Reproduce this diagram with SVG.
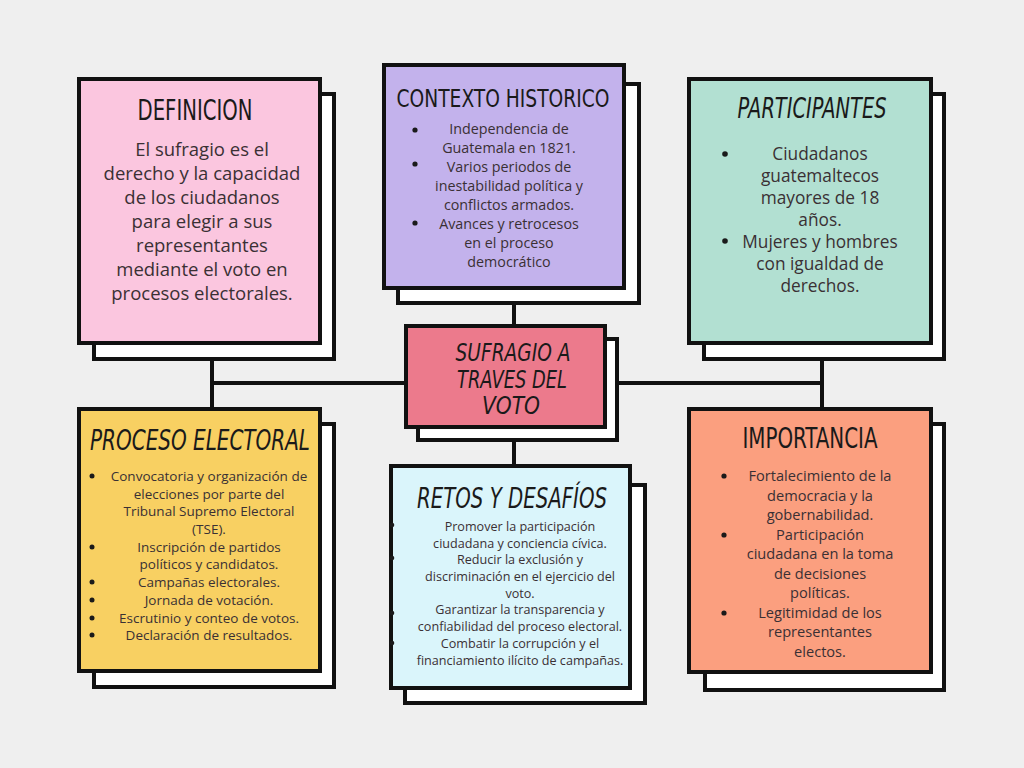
<svg xmlns="http://www.w3.org/2000/svg" width="1024" height="768" viewBox="0 0 1024 768">
<style>
.bg{fill:#efefef}
.sh{fill:#ffffff;stroke:#111;stroke-width:4}
.fr{stroke:#111;stroke-width:4}
.ttl{font-family:"Liberation Sans Narrow","DejaVu Sans Condensed","Roboto Condensed","Liberation Sans",sans-serif;font-stretch:condensed;fill:#1a1a1a;text-anchor:middle}
.it{font-style:italic}
.bd{font-family:"Open Sans","Noto Sans","Liberation Sans",sans-serif;font-weight:400;fill:#3a3034;text-anchor:middle}
.dot{fill:#1a1a1a}
.cn{stroke:#111;stroke-width:4;fill:none}
</style>
<rect class="bg" x="0" y="0" width="1024" height="768"/>
<g id="connectors">
<path class="cn" d="M212 359V408M212 383H406"/>
<path class="cn" d="M514 303V326M514 440V465"/>
<path class="cn" d="M822 360V408M619 383H822"/>
</g>
<g id="definicion">
<rect class="sh" x="94" y="94" width="240" height="265"/>
<rect class="fr" x="79" y="79" width="241" height="264" fill="#fbc6df"/>
<text class="ttl" x="195" y="120" font-size="28" textLength="115" lengthAdjust="spacingAndGlyphs">DEFINICION</text>
<g class="bd" font-size="18.5">
<text x="202" y="156">El sufragio es el</text>
<text x="202" y="180">derecho y la capacidad</text>
<text x="202" y="204">de los ciudadanos</text>
<text x="202" y="228">para elegir a sus</text>
<text x="202" y="252">representantes</text>
<text x="202" y="276">mediante el voto en</text>
<text x="202" y="300">procesos electorales.</text>
</g>
</g>
<g id="contexto">
<rect class="sh" x="398" y="84" width="241" height="219"/>
<rect class="fr" x="384" y="65" width="240" height="223" fill="#c3b2ec"/>
<text class="ttl" x="503" y="107" font-size="25" textLength="213" lengthAdjust="spacingAndGlyphs">CONTEXTO HISTORICO</text>
<circle class="dot" cx="415" cy="130" r="2.6"/>
<circle class="dot" cx="415" cy="164" r="2.6"/>
<circle class="dot" cx="415" cy="223" r="2.6"/>
<g class="bd" font-size="14.3">
<text x="509" y="134">Independencia de</text>
<text x="509" y="153">Guatemala en 1821.</text>
<text x="509" y="172">Varios periodos de</text>
<text x="509" y="191">inestabilidad política y</text>
<text x="509" y="210">conflictos armados.</text>
<text x="509" y="229">Avances y retrocesos</text>
<text x="509" y="248">en el proceso</text>
<text x="509" y="267">democrático</text>
</g>
</g>
<g id="participantes">
<rect class="sh" x="704" y="94" width="240" height="265"/>
<rect class="fr" x="689" y="79" width="242" height="264" fill="#b2e0d2"/>
<text class="ttl it" x="812" y="118" font-size="28" textLength="149" lengthAdjust="spacingAndGlyphs">PARTICIPANTES</text>
<circle class="dot" cx="725" cy="154" r="2.8"/>
<circle class="dot" cx="725" cy="241" r="2.8"/>
<g class="bd" font-size="17.3">
<text x="820" y="160">Ciudadanos</text>
<text x="820" y="182">guatemaltecos</text>
<text x="820" y="204">mayores de 18</text>
<text x="820" y="226">años.</text>
<text x="820" y="248">Mujeres y hombres</text>
<text x="820" y="270">con igualdad de</text>
<text x="820" y="292">derechos.</text>
</g>
</g>
<g id="centro">
<rect class="sh" x="418" y="339" width="199" height="101"/>
<rect class="fr" x="406" y="326" width="199" height="101" fill="#ec7a8c"/>
<g class="ttl it" font-size="24">
<text x="513" y="361" textLength="115" lengthAdjust="spacingAndGlyphs">SUFRAGIO A</text>
<text x="512" y="388" textLength="110" lengthAdjust="spacingAndGlyphs">TRAVES DEL</text>
<text x="511" y="414" textLength="58" lengthAdjust="spacingAndGlyphs">VOTO</text>
</g>
</g>
<g id="proceso">
<rect class="sh" x="94" y="424" width="240" height="263"/>
<rect class="fr" x="79" y="409" width="241" height="262" fill="#f8d062"/>
<text class="ttl it" x="200" y="450" font-size="28" textLength="220" lengthAdjust="spacingAndGlyphs">PROCESO ELECTORAL</text>
<circle class="dot" cx="92" cy="476" r="2.5"/>
<circle class="dot" cx="92" cy="547" r="2.5"/>
<circle class="dot" cx="92" cy="582" r="2.5"/>
<circle class="dot" cx="92" cy="600" r="2.5"/>
<circle class="dot" cx="92" cy="618" r="2.5"/>
<circle class="dot" cx="92" cy="635" r="2.5"/>
<g class="bd" font-size="13.5">
<text x="209" y="481">Convocatoria y organización de</text>
<text x="209" y="499">elecciones por parte del</text>
<text x="209" y="516">Tribunal Supremo Electoral</text>
<text x="209" y="534">(TSE).</text>
<text x="209" y="552">Inscripción de partidos</text>
<text x="209" y="569">políticos y candidatos.</text>
<text x="209" y="587">Campañas electorales.</text>
<text x="209" y="605">Jornada de votación.</text>
<text x="209" y="623">Escrutinio y conteo de votos.</text>
<text x="209" y="640">Declaración de resultados.</text>
</g>
</g>
<g id="retos">
<rect class="sh" x="405" y="485" width="240" height="218"/>
<rect class="fr" x="391" y="466" width="239" height="222" fill="#daf5fb"/>
<text class="ttl it" x="512" y="508" font-size="28" textLength="190" lengthAdjust="spacingAndGlyphs">RETOS Y DESAFÍOS</text>
<circle class="dot" cx="392" cy="525" r="2.3"/>
<circle class="dot" cx="392" cy="558" r="2.3"/>
<circle class="dot" cx="392" cy="613" r="2.3"/>
<circle class="dot" cx="392" cy="643" r="2.3"/>
<g class="bd" font-size="12.6">
<text x="520" y="531">Promover la participación</text>
<text x="520" y="548">ciudadana y conciencia cívica.</text>
<text x="520" y="564">Reducir la exclusión y</text>
<text x="520" y="581">discriminación en el ejercicio del</text>
<text x="520" y="598">voto.</text>
<text x="520" y="614">Garantizar la transparencia y</text>
<text x="520" y="631">confiabilidad del proceso electoral.</text>
<text x="520" y="648">Combatir la corrupción y el</text>
<text x="520" y="665">financiamiento ilícito de campañas.</text>
</g>
</g>
<g id="importancia">
<rect class="sh" x="705" y="424" width="239" height="266"/>
<rect class="fr" x="689" y="409" width="242" height="263" fill="#fb9f7f"/>
<text class="ttl" x="810" y="448" font-size="28" textLength="135" lengthAdjust="spacingAndGlyphs">IMPORTANCIA</text>
<circle class="dot" cx="724" cy="476" r="2.6"/>
<circle class="dot" cx="724" cy="535" r="2.6"/>
<circle class="dot" cx="724" cy="613" r="2.6"/>
<g class="bd" font-size="14.6">
<text x="820" y="481">Fortalecimiento de la</text>
<text x="820" y="501">democracia y la</text>
<text x="820" y="520">gobernabilidad.</text>
<text x="820" y="540">Participación</text>
<text x="820" y="559">ciudadana en la toma</text>
<text x="820" y="579">de decisiones</text>
<text x="820" y="598">políticas.</text>
<text x="820" y="618">Legitimidad de los</text>
<text x="820" y="637">representantes</text>
<text x="820" y="657">electos.</text>
</g>
</g>
</svg>
